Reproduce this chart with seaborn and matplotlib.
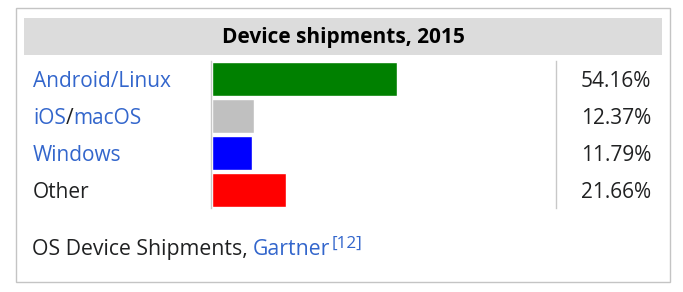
import matplotlib
matplotlib.use("Agg")
import matplotlib.pyplot as plt
import matplotlib.patches as mpatches
import matplotlib.transforms as mtransforms
import seaborn as sns
import pandas as pd

# ---- data ----
categories = ["Android/Linux", "iOS/macOS", "Windows", "Other"]
shares = [54.16, 12.37, 11.79, 21.66]
value_labels = ["54.16%", "12.37%", "11.79%", "21.66%"]
bar_colors = ["#008000", "#c0c0c0", "#0000ff", "#ff0000"]
title = "Device shipments, 2015"
footer_text = "OS Device Shipments, "
footer_link = "Gartner"
footer_ref = "[12]"

LINK = "#3366cc"
TEXT = "#202122"

sns.set_theme(style="white")
plt.rcParams["font.family"] = ["Open Sans", "DejaVu Sans"]

W, H = 683, 292
fig = plt.figure(figsize=(W / 100, H / 100), dpi=100)
fig.patch.set_facecolor("white")

# outer border and header band
fig.patches.append(mpatches.Rectangle((15.5 / W, 1 - 282.3 / H), (670 - 15.5) / W, (282.3 - 8.3) / H,
                                      transform=fig.transFigure, fill=False,
                                      edgecolor="#c4c4c4", linewidth=1.0))
fig.patches.append(mpatches.Rectangle((24 / W, 1 - 55 / H), (662 - 24) / W, (55 - 17.7) / H,
                                      transform=fig.transFigure, facecolor="#dcdcdc",
                                      edgecolor="none"))
fig.text(343 / W, 1 - 43.3 / H, title, ha="center", va="baseline",
         fontsize=15.0, fontweight="bold", color="black")

# bar axes
ax = fig.add_axes([210.5 / W, 1 - 208 / H, (555.5 - 210.5) / W, (208 - 61) / H])
df = pd.DataFrame({"cat": categories, "share": shares})
sns.barplot(data=df, y="cat", x="share", hue="cat", palette=bar_colors,
            orient="h", width=0.92, legend=False, ax=ax, saturation=1)
ax.set_xlim(-0.44, 100.56)
ax.set_ylim(len(categories) - 0.5, -0.5)
ax.set_xlabel("")
ax.set_ylabel("")
ax.set_xticks([])
ax.set_yticks([])
for s in ["top", "bottom"]:
    ax.spines[s].set_visible(False)
for s in ["left", "right"]:
    ax.spines[s].set_visible(True)
    ax.spines[s].set_color("#c8c8c8")
    ax.spines[s].set_linewidth(1.0)
ax.patch.set_alpha(0)

FS = 15.05
# row labels and values
trans = mtransforms.blended_transform_factory(fig.transFigure, ax.transData)
for i, (cat, val) in enumerate(zip(categories, value_labels)):
    if cat == "iOS/macOS":
        t1 = ax.text(33 / W, i, "iOS", transform=trans, ha="left", va="center_baseline",
                     fontsize=FS, color=LINK)
        t2 = ax.annotate("/", xy=(1, 0), xycoords=t1, ha="left", va="bottom",
                         fontsize=FS, color=TEXT)
        ax.annotate("macOS", xy=(1, 0), xycoords=t2, ha="left", va="bottom",
                    fontsize=FS, color=LINK)
    else:
        ax.text(33 / W, i, cat, transform=trans, ha="left", va="center_baseline",
                fontsize=FS, color=(TEXT if cat == "Other" else LINK))
    ax.text(651 / W, i, val, transform=trans, ha="right", va="center_baseline",
            fontsize=FS, color=TEXT)

# footer
f1 = fig.text(32 / W, 1 - 255 / H, footer_text, ha="left", va="baseline",
              fontsize=15.3, color=TEXT)
f2 = fig.text(0, 0, footer_link, fontsize=15.3, color=LINK, ha="left", va="baseline")
fig.canvas.draw()
r = fig.canvas.get_renderer()
bb = f1.get_window_extent(r)
f2.set_position((bb.x1 / W, 1 - 255 / H))
fig.canvas.draw()
bb2 = f2.get_window_extent(r)
fig.text(bb2.x1 / W + 1 / W, 1 - 248 / H, footer_ref, fontsize=12.3, color=LINK,
         ha="left", va="baseline")

fig.savefig("out.png", dpi=100, facecolor="white")
